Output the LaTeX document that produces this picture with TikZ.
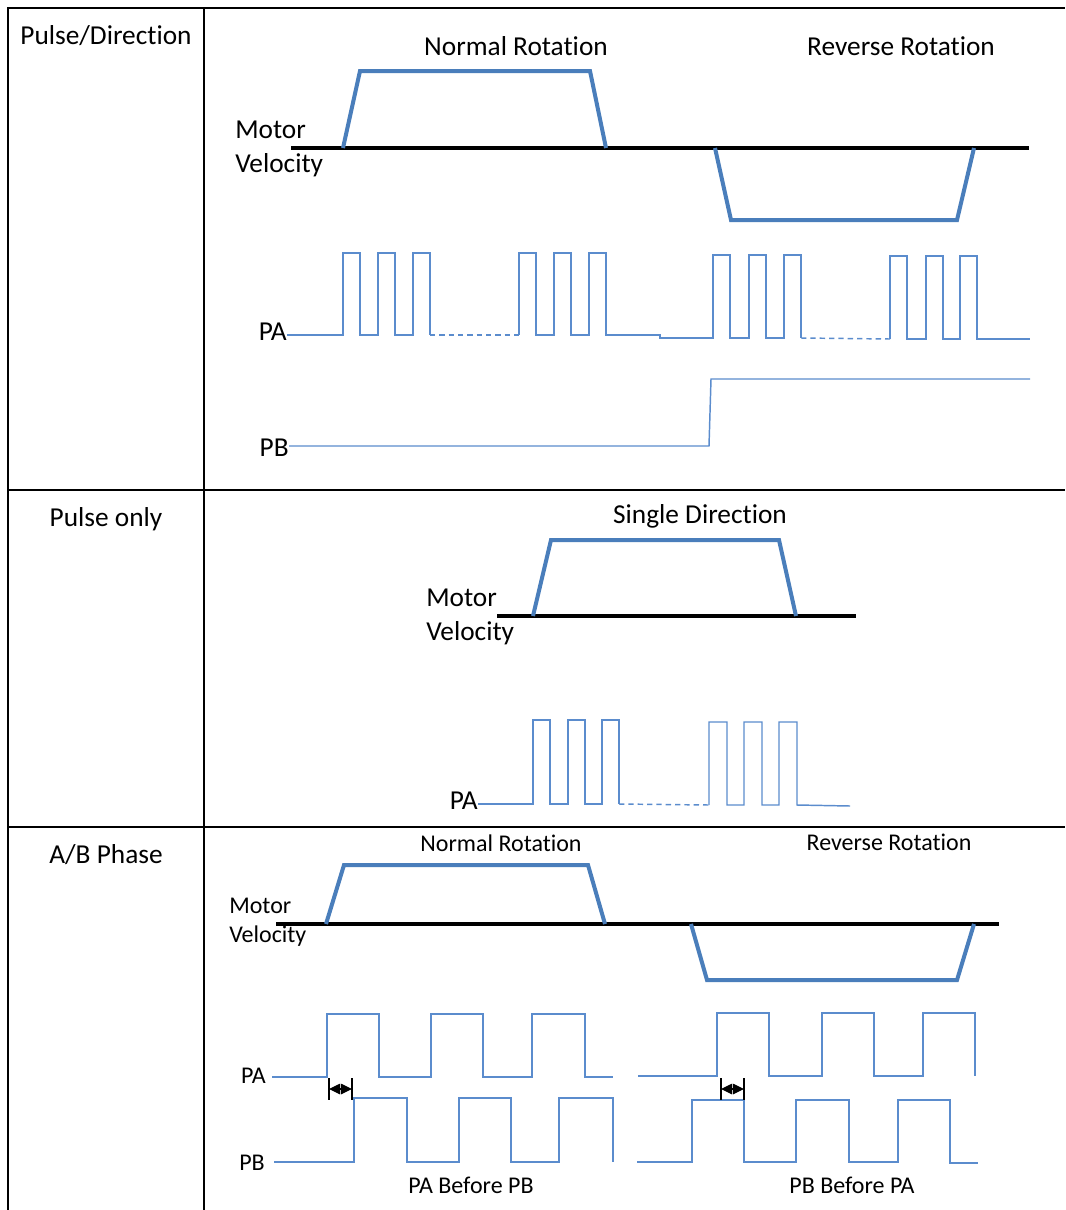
\documentclass[tikz,border=0pt]{standalone}
\usepackage{fontspec}
\setmainfont{Carlito}[Ligatures={NoCommon,NoRequired,NoContextual,NoRare}, Contextuals=NoAlternate]
\usetikzlibrary{arrows.meta}

\definecolor{speedblue}{RGB}{74,126,187}
\definecolor{waveblue}{RGB}{91,140,205}

\begin{document}
\begin{tikzpicture}[
  x=0.75pt, y=-0.75pt,
  grid/.style={line width=1.5pt, black},
  axis/.style={line width=3pt, black},
  speed/.style={line width=3pt, speedblue},
  wave/.style={line width=1.1pt, waveblue},
  gap/.style={wave, dash pattern=on 4pt off 3pt},
  delay/.style={line width=0.8pt, black, {Triangle[length=8.4pt,width=8pt]}-{Triangle[length=8.4pt,width=8pt]}},
  lbl/.style={font=\fontsize{20.5}{24}\selectfont, inner sep=0pt},
  lblsm/.style={font=\fontsize{18}{21}\selectfont, inner sep=0pt}
]
  \useasboundingbox (0,0) rectangle (1065,1210);

  \draw[grid] (8,1210) -- (8,8) -- (1065,8);
  \draw[grid] (204,8) -- (204,1210);
  \draw[grid] (8,490) -- (1065,490);
  \draw[grid] (8,827) -- (1065,827);

  \node[lbl, anchor=base] (mode1) at (106,44) {Pulse/Direction};
  \node[lbl, anchor=base] (mode2) at (106,526) {Pulse only};
  \node[lbl, anchor=base] (mode3) at (106,863) {A/B Phase};

  % pulse / direction
  \node[lbl, anchor=base] (norm1) at (516,55) {Normal Rotation};
  \node[lbl, anchor=base] (rev1) at (901,55) {Reverse Rotation};
  \node[lbl, anchor=base west] (mot1) at (235,138) {Motor};
  \node[lbl, anchor=base west] (vel1) at (235,172) {Velocity};
  \node[lbl, anchor=base east] (pa1) at (287,340) {PA};
  \node[lbl, anchor=base east] (pb1) at (289,456) {PB};

  \draw[axis] (291,148) -- (1029,148);
  \draw[speed] (343,148) -- (360,71) -- (590,71) -- (606,148);
  \draw[speed] (715,148) -- (731,220) -- (957,220) -- (974,148);

  \draw[wave] (287,335) foreach \x in {343,378,413} {-- (\x,335) -- (\x,253) -- (\x+17,253) -- (\x+17,335)};
  \draw[gap] (430,335) -- (519,335);
  \draw[wave] (519,335) foreach \x in {519,554,589} {-- (\x,335) -- (\x,253) -- (\x+17,253) -- (\x+17,335)}
    -- (660,335) -- (660,338) foreach \x in {713,749,784} {-- (\x,338) -- (\x,255) -- (\x+17,255) -- (\x+17,338)};
  \draw[gap] (801,338) -- (890,339);
  \draw[wave] (890,339) foreach \x in {890,926,960} {-- (\x,339) -- (\x,256) -- (\x+17,256) -- (\x+17,339)} -- (1030,339);
  \draw[wave] (289,446) -- (709,446) -- (711,379) -- (1030,379);

  % pulse only
  \node[lbl, anchor=base] (single) at (700,523) {Single Direction};
  \node[lbl, anchor=base west] (mot2) at (426,606) {Motor};
  \node[lbl, anchor=base west] (vel2) at (426,640) {Velocity};
  \node[lbl, anchor=base east] (pa2) at (478,809) {PA};

  \draw[axis] (497,616) -- (856,616);
  \draw[speed] (533,616) -- (551,540) -- (779,540) -- (796,616);

  \draw[wave] (478,804) foreach \x in {533,568,602} {-- (\x,804) -- (\x,720) -- (\x+17,720) -- (\x+17,804)};
  \draw[gap] (619,804) -- (709,805);
  \draw[wave] (709,805) foreach \x in {709,744,779} {-- (\x,805) -- (\x,722) -- (\x+18,722) -- (\x+18,805)} -- (850,806);

  % a/b phase
  \node[lblsm, anchor=base] (norm3) at (501,851) {Normal Rotation};
  \node[lblsm, anchor=base] (rev3) at (889,850) {Reverse Rotation};
  \node[lblsm, anchor=base west] (mot3) at (229,913) {Motor};
  \node[lblsm, anchor=base west] (vel3) at (229,942) {Velocity};
  \node[lblsm, anchor=base east] (pa3) at (266,1083) {PA};
  \node[lblsm, anchor=base east] (pb3) at (265,1170) {PB};
  \node[lblsm, anchor=base] (pab) at (471,1193) {PA Before PB};
  \node[lblsm, anchor=base] (pba) at (852,1193) {PB Before PA};

  \draw[axis] (276,924) -- (999,924);
  \draw[speed] (326,924) -- (344,865) -- (588,865) -- (605,924);
  \draw[speed] (691,924) -- (707,980) -- (957,980) -- (974,924);

  \draw[wave] (272,1077) -| (327,1014) -| (379,1077) -| (431,1014) -| (483,1077) -| (532,1014) -| (585,1077) -- (613,1077);
  \draw[wave] (274,1162) -| (354,1098) -| (407,1162) -| (459,1098) -| (511,1162) -| (559,1098) -| (613,1162);
  \draw[wave] (638,1076) -| (717,1013) -| (769,1076) -| (822,1013) -| (874,1076) -| (923,1013) -| (975,1076);
  \draw[wave] (637,1162) -| (692,1100) -| (744,1162) -| (796,1100) -| (849,1162) -| (898,1100) -| (950,1163) -- (978,1163);

  \draw[line width=0.8pt] (329,1078) -- (329,1100) (352,1078) -- (352,1100);
  \draw[delay] (329,1089) -- (352,1089);
  \draw[line width=0.8pt] (721,1078) -- (721,1100) (744,1078) -- (744,1100);
  \draw[delay] (721,1089) -- (744,1089);
\end{tikzpicture}
\end{document}
